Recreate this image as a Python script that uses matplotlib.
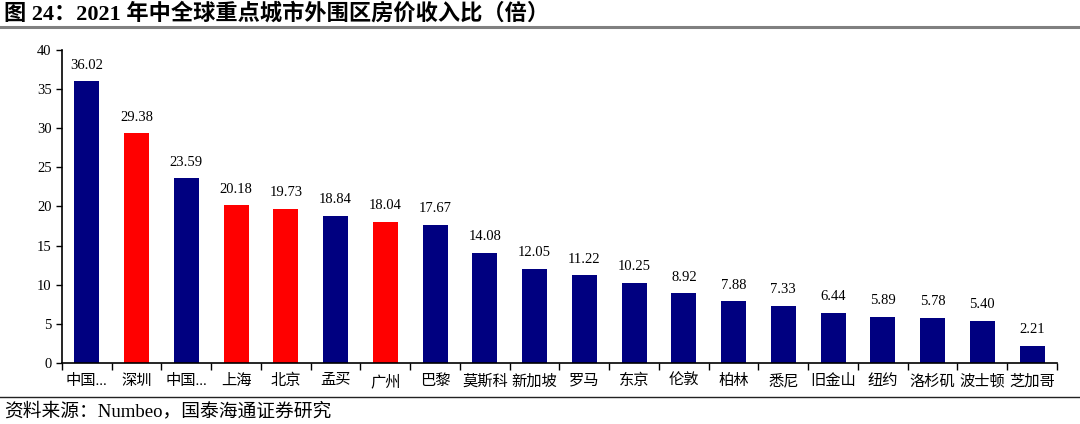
import matplotlib.pyplot as plt
from matplotlib.lines import Line2D

plt.rcParams['font.family'] = ['Liberation Serif', 'Noto Sans CJK SC']

cities = ["中国...", "深圳", "中国...", "上海", "北京", "孟买", "广州", "巴黎", "莫斯科", "新加坡",
          "罗马", "东京", "伦敦", "柏林", "悉尼", "旧金山", "纽约", "洛杉矶", "波士顿", "芝加哥"]
ratios = [36.02, 29.38, 23.59, 20.18, 19.73, 18.84, 18.04, 17.67, 14.08, 12.05,
          11.22, 10.25, 8.92, 7.88, 7.33, 6.44, 5.89, 5.78, 5.40, 2.21]
red_cities = ["深圳", "上海", "北京", "广州"]

colors = ['#FF0000' if c in red_cities else '#000080' for c in cities]

fig = plt.figure(figsize=(10.8, 4.24), dpi=100)
ax = fig.add_axes([0.0574, 0.144, 0.9213, 0.738])

x = list(range(len(cities)))
bars = ax.bar(x, ratios, width=0.5, color=colors)
for xi, v in zip(x, ratios):
    ax.text(xi, v + 1.2, f"{v:.2f}", ha='center', va='bottom', fontsize=10.5)

ax.set_xlim(-0.5, len(cities) - 0.5)
ax.set_ylim(0, 40)
ax.set_yticks(range(0, 41, 5))
ax.tick_params(axis='y', labelsize=10.5, length=4, direction='out', width=1)
ax.set_xticks([i - 0.5 for i in range(len(cities) + 1)], minor=False)
ax.set_xticklabels([])
ax.tick_params(axis='x', length=5, width=1, direction='out')
ax.set_xticks(x, minor=True)
ax.set_xticklabels(cities, minor=True, fontsize=11)
ax.tick_params(axis='x', which='minor', length=0, pad=8)
for s in ['top', 'right']:
    ax.spines[s].set_visible(False)
for s in ['left', 'bottom']:
    ax.spines[s].set_linewidth(1.2)

fig.text(0.004, 0.968, "图 24：2021 年中全球重点城市外围区房价收入比（倍）",
         fontsize=16, fontweight='bold', va='center', ha='left')
fig.add_artist(Line2D([0, 1], [0.936, 0.936], color='#808080', lw=2.2, transform=fig.transFigure))
fig.add_artist(Line2D([0, 1], [0.064, 0.064], color='#222222', lw=1, transform=fig.transFigure))
fig.text(0.004, 0.031, "资料来源：Numbeo，国泰海通证券研究", fontsize=13.5, va='center', ha='left')

fig.savefig("out.png", dpi=100)
